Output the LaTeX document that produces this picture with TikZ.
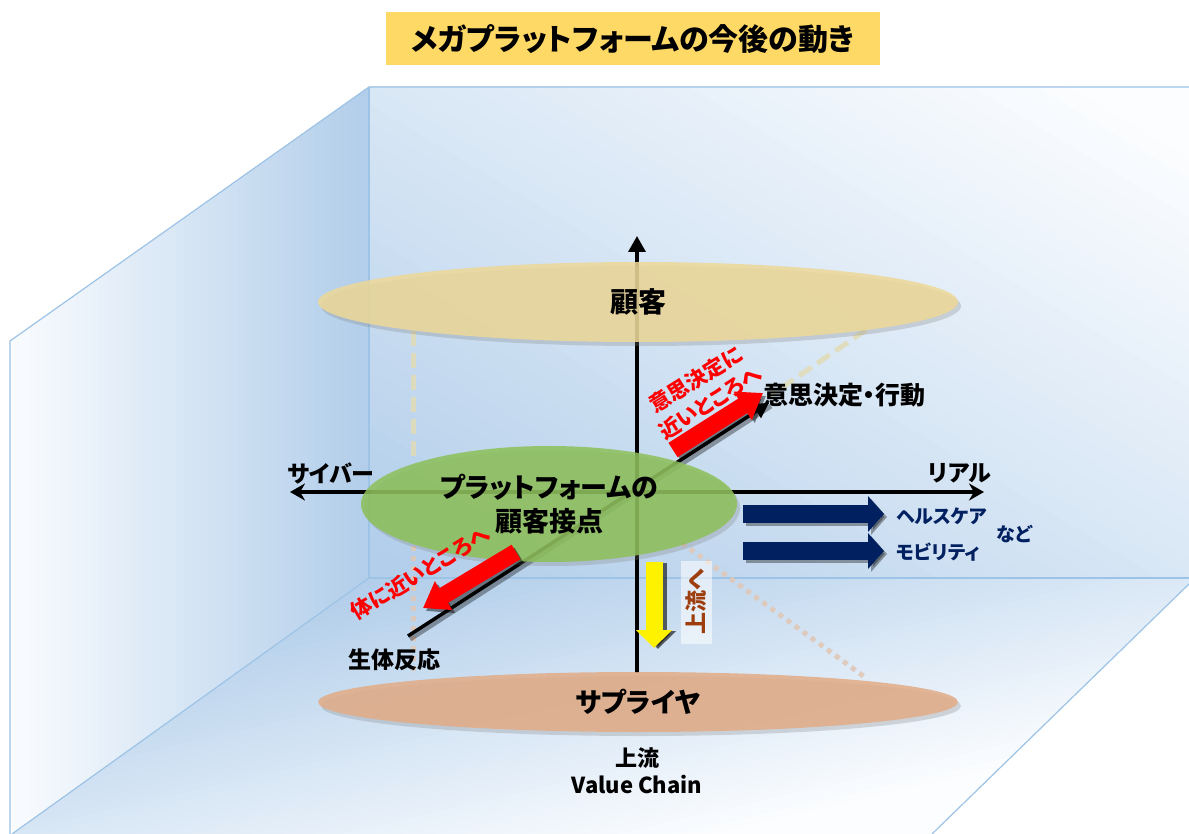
\documentclass[tikz,border=0pt]{standalone}
\usepackage{fontspec}
\setmainfont{Noto Sans CJK JP}[RawFeature=+palt]
\usetikzlibrary{arrows.meta,shapes.geometric,shadows,calc}
\definecolor{wallline}{RGB}{157,195,230}
\definecolor{wallblue}{RGB}{178,206,234}
\definecolor{wallwhite}{RGB}{251,253,255}
\definecolor{kokyakuC}{RGB}{237,216,152}
\definecolor{greenC}{RGB}{141,192,90}
\definecolor{supC}{RGB}{226,172,135}
\definecolor{titleC}{RGB}{255,217,102}
\definecolor{navyC}{RGB}{0,32,96}
\definecolor{brownC}{RGB}{158,62,14}
\definecolor{creamdash}{RGB}{226,220,182}
\definecolor{peachdot}{RGB}{224,200,184}
\definecolor{redC}{RGB}{255,0,0}
% linear band gradient: #1 origin, #2 angle, #3 length; blue at origin, white at end
\newcommand\mybandgrad[3]{%
\begin{scope}[shift={#1}, rotate=#2]
 \fill[wallblue] (-1100,-1100) rectangle (0.5,1100);
 \fill[wallwhite] (#3,-1100) rectangle (1100,1100);
 \foreach \i in {0,...,47} {
   \pgfmathtruncatemacro\p{100-\i*100/47}
   \pgfmathsetmacro\xa{\i/48*#3}
   \pgfmathsetmacro\xb{(\i+1)/48*#3+0.8}
   \fill[wallblue!\p!wallwhite] (\xa,-1100) rectangle (\xb,1100);
 }
\end{scope}}
\begin{document}
\begin{tikzpicture}[x=1pt,y=-1pt,
  every node/.style={inner sep=0pt},
  edgeline/.style={wallline, line width=1.2pt},
  axisline/.style={line width=3.5pt, black},
  ell/.style={ellipse, fill opacity=0.86, text opacity=1,
    drop shadow={shadow xshift=3pt, shadow yshift=-4pt, opacity=0.28}},
  bigtxt/.style={font=\fontsize{28}{34}\selectfont\bfseries},
  midtxt/.style={font=\fontsize{23}{28}\selectfont\bfseries},
  navytxt/.style={font=\fontsize{19}{22}\selectfont\bfseries, text=navyC},
  redtxt/.style={font=\fontsize{21}{27}\selectfont\bfseries, text=redC, align=center},
  creamline/.style={creamdash, opacity=0.85, line width=5pt, dash pattern=on 15pt off 7pt},
  peachline/.style={peachdot, opacity=0.9, line width=5pt, dash pattern=on 5pt off 5pt},
  redarrow/.style={redC, line width=17pt, -{Triangle[length=24pt,width=32pt]}},
  navyarrow/.style={navyC, line width=18pt, -{Triangle[length=16pt,width=35pt]}},
  shadowarrow/.style={black, opacity=0.45}
]
\useasboundingbox (0,0) rectangle (1189,834);
\fill[white] (0,0) rectangle (1189,834);

% corners of the room
\coordinate (BTL) at (369,87);
\coordinate (BTR) at (1189,87);
\coordinate (BBL) at (369,578);
\coordinate (BBR) at (1189,578);
\coordinate (LTL) at (10,341);
\coordinate (LBL) at (10,834);
\coordinate (FBL) at (12,834);
\coordinate (FR1) at (1189,584);
\coordinate (FR2) at (932,834);

% walls (band gradients)
\begin{scope}
  \clip (LTL) -- (BTL) -- (BBL) -- (FBL) -- (LBL) -- cycle;
  \mybandgrad{(369,560)}{180}{370}
\end{scope}
\begin{scope}
  \clip (BBL) -- (BBR) -- (FR1) -- (FR2) -- (FBL) -- cycle;
  \mybandgrad{(380,578)}{-77}{330}
\end{scope}
\begin{scope}
  \clip (BTL) rectangle (BBR);
  \mybandgrad{(380,565)}{59}{780}
\end{scope}

\draw[edgeline] (BTR) -- (BTL) -- (LTL) -- (LBL);
\draw[edgeline] (BTL) -- (BBL) -- (BBR);
\draw[edgeline] (BBL) -- (FBL);
\draw[edgeline] (FR1) -- (FR2);

% projection lines
\coordinate (c1) at (413,331);
\coordinate (c2) at (413,462);
\coordinate (c3) at (866,330);
\coordinate (c4) at (768,397);
\coordinate (p1) at (413,546);
\coordinate (p2) at (413,676);
\coordinate (p3) at (682,543);
\coordinate (p4) at (866,678);
\draw[creamline] (c1) -- (c2);
\draw[creamline] (c3) -- (c4);
\draw[peachline] (p1) -- (p2);
\draw[peachline] (p3) -- (p4);

% axes
\coordinate (axL) at (290,492);
\coordinate (axR) at (984,492);
\coordinate (axB) at (637,673);
\coordinate (axT) at (637,236);
\coordinate (dgA) at (408,636);
\coordinate (dgB) at (769,403);
\draw[axisline, {Stealth[length=15pt,width=17pt]}-{Stealth[length=15pt,width=17pt]}] (axL) -- (axR);
\draw[axisline, -{Triangle[length=16pt,width=17pt]}] (axB) -- (axT);
\draw[black, opacity=0.35, line width=5pt] ($(dgA)+(2,3)$) -- ($(dgB)+(2,3)$);
\draw[axisline, -{Triangle[length=15pt,width=16pt]}] (dgA) -- (dgB);

% ellipses
\node[ell, fill=kokyakuC, minimum width=640pt, minimum height=80pt, bigtxt] (kokyaku) at (638,302) {顧客};
\node[ell, fill=greenC, minimum width=376pt, minimum height=116pt, align=center, font=\fontsize{27}{34}\selectfont\bfseries] (pf) at (549,504) {プラットフォームの\\顧客接点};
\node[ell, fill=supC, minimum width=640pt, minimum height=60pt, font=\fontsize{27}{32}\selectfont\bfseries] (sup) at (638,702) {サプライヤ};

% red arrows
\coordinate (r1a) at (673,450);
\coordinate (r1b) at (763,393);
\coordinate (r2a) at (516,552);
\coordinate (r2b) at (423,608);
\draw[redarrow, shadowarrow] ($(r1a)+(3,3)$) -- ($(r1b)+(3,3)$);
\draw[redarrow] (r1a) -- (r1b);
\draw[redarrow, shadowarrow] ($(r2a)+(3,3)$) -- ($(r2b)+(3,3)$);
\draw[redarrow] (r2a) -- (r2b);

% yellow arrow
\coordinate (y1) at (654,562);
\coordinate (y2) at (654,648);
\draw[black, opacity=0.6, line width=17pt, -{Triangle[length=18pt,width=35pt]}] ($(y1)+(4,1)$) -- ($(y2)+(4,1)$);
\draw[yellow, line width=17pt, -{Triangle[length=18pt,width=35pt]}] (y1) -- (y2);

% navy arrows
\coordinate (n1a) at (743,514);
\coordinate (n1b) at (884,514);
\coordinate (n2a) at (743,551);
\coordinate (n2b) at (884,551);
\draw[navyarrow, black, opacity=0.35] ($(n1a)+(3,3)$) -- ($(n1b)+(3,3)$);
\draw[navyarrow, black, opacity=0.35] ($(n2a)+(3,3)$) -- ($(n2b)+(3,3)$);
\draw[navyarrow] (n1a) -- (n1b);
\draw[navyarrow] (n2a) -- (n2b);

% labels
\node[font=\fontsize{30}{34}\selectfont\bfseries, fill=titleC, minimum width=494pt, minimum height=53pt] (title) at (633,39) {メガプラットフォームの今後の動き};
\node[midtxt] (cyber) at (331,473) {サイバー};
\node[midtxt] (real) at (960,473) {リアル};
\node[anchor=west, font=\fontsize{25}{30}\selectfont\bfseries] (ishi) at (763,395) {意思決定・行動};
\node[midtxt] (seitai) at (394,660) {生体反応};
\node[align=center, font=\fontsize{22}{27}\selectfont\bfseries] (vc) at (637,771) {上流\\Value Chain};
\node[redtxt, rotate=32] (red1) at (703,391) {意思決定に\\近いところへ};
\node[redtxt, rotate=31] (red2) at (420,573) {体に近いところへ};
\node[fill=white, fill opacity=0.55, text opacity=1, text=brownC, rotate=90,
      font=\fontsize{22}{24}\selectfont\bfseries, minimum width=83pt, minimum height=31pt] (joryu) at (696,602) {上流へ};
\node[navytxt, anchor=west] (health) at (896,516) {ヘルスケア};
\node[navytxt, anchor=west] (mobi) at (896,552) {モビリティ};
\node[navytxt] (nado) at (1014,534) {など};
\end{tikzpicture}
\end{document}
